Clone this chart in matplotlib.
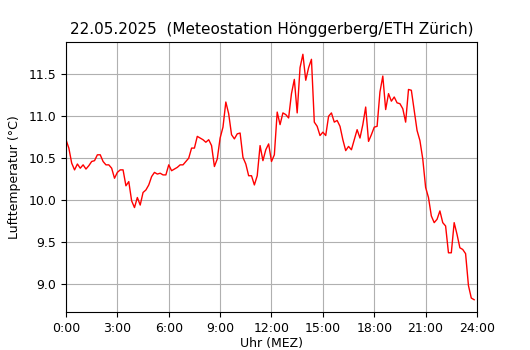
# coding=utf-8

""" Tagesverlauf Lufttemperatur, 10-Minuten-Werte """

import numpy as np
import matplotlib
matplotlib.use('Agg')
import matplotlib.pyplot as plt


# 10-Minuten-Werte ab 0:00 (144 Werte)
temps = [
    10.72, 10.62, 10.44, 10.36, 10.43, 10.38, 10.42, 10.37, 10.41, 10.46,
    10.47, 10.54, 10.54, 10.46, 10.42, 10.42, 10.38, 10.26, 10.33, 10.36,
    10.36, 10.17, 10.22, 9.99, 9.91, 10.03, 9.94, 10.09, 10.12, 10.18,
    10.28, 10.33, 10.31, 10.32, 10.30, 10.30, 10.42, 10.35, 10.37, 10.39,
    10.42, 10.42, 10.46, 10.50, 10.62, 10.62, 10.76, 10.74, 10.72, 10.69,
    10.72, 10.65, 10.40, 10.49, 10.74, 10.87, 11.17, 11.03, 10.78, 10.73,
    10.79, 10.80, 10.51, 10.43, 10.29, 10.29, 10.18, 10.29, 10.65, 10.47,
    10.60, 10.67, 10.46, 10.54, 11.05, 10.90, 11.04, 11.02, 10.98, 11.27,
    11.44, 11.04, 11.58, 11.74, 11.43, 11.58, 11.68, 10.93, 10.88, 10.77,
    10.81, 10.77, 11.00, 11.04, 10.93, 10.95, 10.88, 10.72, 10.59, 10.64,
    10.60, 10.72, 10.84, 10.74, 10.90, 11.11, 10.70, 10.78, 10.87, 10.88,
    11.29, 11.48, 11.08, 11.27, 11.18, 11.23, 11.16, 11.15, 11.09, 10.93,
    11.32, 11.31, 11.07, 10.83, 10.71, 10.49, 10.15, 10.03, 9.81, 9.73,
    9.77, 9.87, 9.73, 9.69, 9.37, 9.37, 9.73, 9.59, 9.43, 9.41,
    9.36, 8.98, 8.83, 8.81,
]
hours = np.arange(len(temps)) / 6.0

xticks = [0, 3, 6, 9, 12, 15, 18, 21, 24]
xticklabels = ['0:00', '3:00', '6:00', '9:00', '12:00', '15:00', '18:00', '21:00', '24:00']


def main():
    fig = plt.figure(figsize=(5.3, 3.5), dpi=100)
    ax = fig.add_axes([0.1245, 0.1086, 0.7755, 0.7714])

    ax.plot(hours, temps, color='red', linewidth=1.0)

    ax.set_xlim(0, 24)
    ax.set_xticks(xticks)
    ax.set_xticklabels(xticklabels)
    ax.grid(True)

    ax.set_title('22.05.2025  (Meteostation Hönggerberg/ETH Zürich)', fontsize=11)
    ax.set_xlabel('Uhr (MEZ)', fontsize=9, labelpad=1.5)
    ax.set_ylabel('Lufttemperatur (°C)', fontsize=9, labelpad=5)
    ax.tick_params(labelsize=9)

    fig.savefig('out.png', dpi=100)


if __name__ == '__main__':
    main()
